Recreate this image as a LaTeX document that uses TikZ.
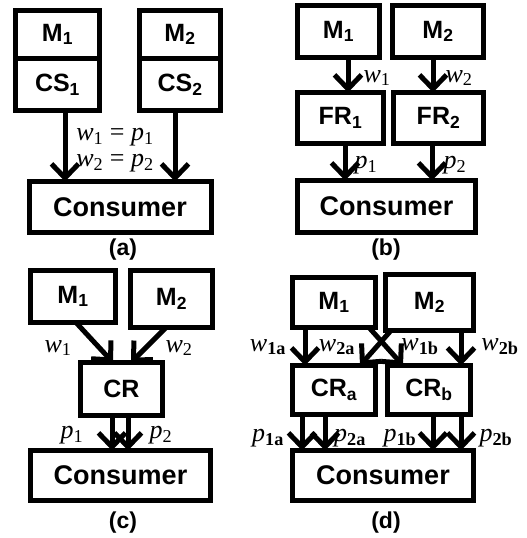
\documentclass[tikz,border=0pt]{standalone}
\usepackage{fontspec}
\setmainfont{Liberation Serif}
\setsansfont{Liberation Sans}
\usetikzlibrary{positioning,arrows.meta}

\begin{document}
\begin{tikzpicture}[x=1pt, y=-1pt, line width=5pt,
  >={Straight Barb[length=14pt,width=27pt]},
  box/.style = {draw, rectangle, inner sep=0pt, outer sep=0pt, font=\sffamily\bfseries\fontsize{25}{25}\selectfont},
  lbl/.style = {inner sep=0pt, font=\rmfamily\fontsize{26}{26}\selectfont},
  figlabel/.style = {inner sep=0pt, font=\sffamily\bfseries\fontsize{23}{23}\selectfont}]
\useasboundingbox (0,0) rectangle (527,538);

% (a)
\node[box, minimum width=84pt, minimum height=48pt] (am1) at (57.5,34.5) {M\textsubscript{1}};
\node[box, minimum width=84pt, minimum height=52pt] (acs1) [below=0pt of am1] {CS\textsubscript{1}};
\node[box, minimum width=81pt, minimum height=48pt] (am2) at (180,34.5) {M\textsubscript{2}};
\node[box, minimum width=81pt, minimum height=52pt] (acs2) [below=0pt of am2] {CS\textsubscript{2}};
\node[box, minimum width=182pt, minimum height=51pt, font=\sffamily\bfseries\fontsize{27}{27}\selectfont] (acon) at (120,207) {Consumer};
\node[lbl] (aw1) at (115,137) {\textit{w}\textsubscript{1} = \textit{p}\textsubscript{1}};
\node[lbl] (aw2) at (115,163) {\textit{w}\textsubscript{2} = \textit{p}\textsubscript{2}};
\node[figlabel] (acap) at (123,250) {(a)};

\draw[->] (acs1.south -| 65,0) -- (acon.north -| 65,0);
\draw[->] (acs2.south -| 175,0) -- (acon.north -| 175,0);

% (b)
\node[box, minimum width=82pt, minimum height=52pt] (bm1) at (338.5,31.5) {M\textsubscript{1}};
\node[box, minimum width=91pt, minimum height=52pt] (bm2) at (438,31.5) {M\textsubscript{2}};
\node[box, minimum width=86pt, minimum height=51pt] (bfr1) at (340.5,118) {FR\textsubscript{1}};
\node[box, minimum width=90pt, minimum height=51pt] (bfr2) at (438.5,118) {FR\textsubscript{2}};
\node[box, minimum width=178pt, minimum height=52pt, font=\sffamily\bfseries\fontsize{27}{27}\selectfont] (bcon) at (386.5,206.5) {Consumer};
\node[lbl] (bw1) at (377,78) {\textit{w}\textsubscript{1}};
\node[lbl] (bw2) at (459,78) {\textit{w}\textsubscript{2}};
\node[lbl] (bp1) at (366,165) {\textit{p}\textsubscript{1}};
\node[lbl] (bp2) at (455,165) {\textit{p}\textsubscript{2}};
\node[figlabel] (bcap) at (386,250) {(b)};

\draw[->] (bm1.south -| 348,0) -- (bfr1.north -| 348,0);
\draw[->] (bm2.south -| 433,0) -- (bfr2.north -| 433,0);
\draw[->] (bfr1.south -| 345,0) -- (bcon.north -| 345,0);
\draw[->] (bfr2.south -| 432,0) -- (bcon.north -| 432,0);

% (c)
\node[box, minimum width=85pt, minimum height=52pt] (cm1) at (73,296.5) {M\textsubscript{1}};
\node[box, minimum width=82pt, minimum height=57pt] (cm2) at (171.5,299) {M\textsubscript{2}};
\node[box, minimum width=82pt, minimum height=53pt] (ccr) at (121.5,389) {CR};
\node[box, minimum width=180pt, minimum height=50pt, font=\sffamily\bfseries\fontsize{27}{27}\selectfont] (ccon) at (120.5,475.5) {Consumer};
\node[lbl] (cw1) at (58,348) {\textit{w}\textsubscript{1}};
\node[lbl] (cw2) at (179,348) {\textit{w}\textsubscript{2}};
\node[lbl] (cp1) at (72,435) {\textit{p}\textsubscript{1}};
\node[lbl] (cp2) at (161,435) {\textit{p}\textsubscript{2}};
\node[figlabel] (ccap) at (123,523) {(c)};

\draw[->] (cm1.south -| 76,0) -- (ccr.north -| 113,0);
\draw[->] (cm2.south -| 166,0) -- (ccr.north -| 131,0);
\draw[->] (ccr.south -| 112,0) -- (ccon.north -| 112,0);
\draw[->] (ccr.south -| 128,0) -- (ccon.north -| 128,0);

% (d)
\node[box, minimum width=83pt, minimum height=50pt] (dm1) at (334,302.5) {M\textsubscript{1}};
\node[box, minimum width=88pt, minimum height=56pt] (dm2) at (429.5,302.5) {M\textsubscript{2}};
\node[box, minimum width=83pt, minimum height=49pt] (dcra) at (334,390) {CR\textsubscript{a}};
\node[box, minimum width=83pt, minimum height=49pt] (dcrb) at (429,390) {CR\textsubscript{b}};
\node[box, minimum width=181pt, minimum height=50pt, font=\sffamily\bfseries\fontsize{27}{27}\selectfont] (dcon) at (383,475.5) {Consumer};
\node[lbl] (dw1a) at (268,347) {\textit{w}\textsubscript{\textbf{1a}}};
\node[lbl] (dw2a) at (337,347) {\textit{w}\textsubscript{\textbf{2a}}};
\node[lbl] (dw1b) at (420,347) {\textit{w}\textsubscript{\textbf{1b}}};
\node[lbl] (dw2b) at (500,347) {\textit{w}\textsubscript{\textbf{2b}}};
\node[lbl] (dp1a) at (268,438) {\textit{p}\textsubscript{\textbf{1a}}};
\node[lbl] (dp2a) at (350,438) {\textit{p}\textsubscript{\textbf{2a}}};
\node[lbl] (dp1b) at (400,438) {\textit{p}\textsubscript{\textbf{1b}}};
\node[lbl] (dp2b) at (496,438) {\textit{p}\textsubscript{\textbf{2b}}};
\node[figlabel] (dcap) at (386,523) {(d)};

\draw[->] (dm1.south -| 305,0) -- (dcra.north -| 305,0);
\draw[->] (dm1.south -| 369,0) -- (dcrb.north -| 403,0);
\draw[->] (dm2.south -| 391,0) -- (dcra.north -| 360,0);
\draw[->] (dm2.south -| 461,0) -- (dcrb.north -| 461,0);
\draw[->] (dcra.south -| 302,0) -- (dcon.north -| 302,0);
\draw[->] (dcra.south -| 325,0) -- (dcon.north -| 325,0);
\draw[->] (dcrb.south -| 433,0) -- (dcon.north -| 433,0);
\draw[->] (dcrb.south -| 461,0) -- (dcon.north -| 461,0);

\end{tikzpicture}
\end{document}
